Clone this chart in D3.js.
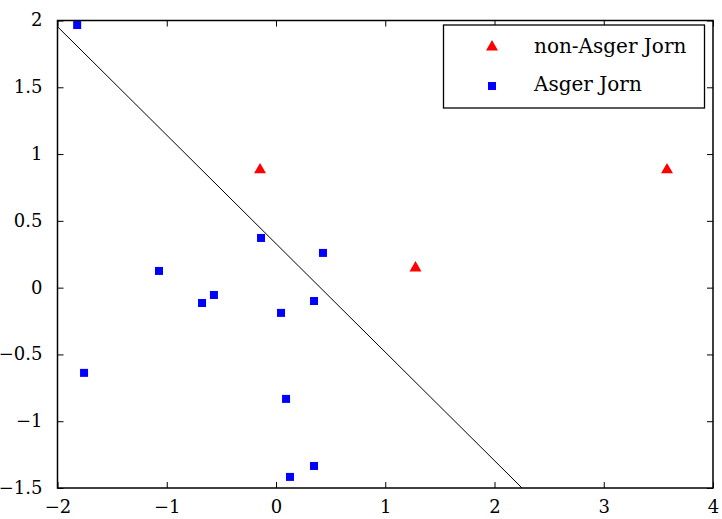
<!DOCTYPE html>
<html>
<head>
<meta charset="utf-8">
<script src="https://cdn.jsdelivr.net/npm/d3@7"></script>
<style>
  body { margin: 0; background: #fff; }
  svg text { font-family: "DejaVu Serif", serif; }
</style>
</head>
<body>
<script>
// non-Asger Jorn (red triangles)
const nonJornX = [-0.146, 1.277, 3.579];
const nonJornY = [0.889, 0.155, 0.889];
// Asger Jorn (blue squares)
const jornX = [-1.82, -1.757, -1.071, -0.677, -0.568, -0.137, 0.43, 0.046, 0.348, 0.092, 0.128, 0.348];
const jornY = [1.966, -0.638, 0.125, -0.115, -0.055, 0.372, 0.26, -0.189, -0.10, -0.833, -1.417, -1.335];
// separating line
const lineX = [-2, 2.252];
const lineY = [1.954, -1.5];

const xTicks = [-2, -1, 0, 1, 2, 3, 4];
const yTicks = [-1.5, -1, -0.5, 0, 0.5, 1, 1.5, 2];
const legendLabels = ['non-Asger Jorn', 'Asger Jorn'];

const width = 722, height = 519;
const pLeft = 57.5, pRight = 713, pTop = 20.5, pBottom = 488;

const svg = d3.select('body').append('svg')
    .attr('width', width)
    .attr('height', height);

const x = d3.scaleLinear().domain([-2, 4]).range([pLeft, pRight]);
const y = d3.scaleLinear().domain([-1.5, 2]).range([pBottom, pTop]);

const fmt = d => (d < 0 ? '\u2212' : '') + Math.abs(d);

svg.append('defs').append('clipPath').attr('id', 'clip')
   .append('rect')
   .attr('x', pLeft).attr('y', pTop)
   .attr('width', pRight - pLeft).attr('height', pBottom - pTop);

// line
svg.append('line')
   .attr('clip-path', 'url(#clip)')
   .attr('x1', x(lineX[0])).attr('y1', y(lineY[0]))
   .attr('x2', x(lineX[1])).attr('y2', y(lineY[1]))
   .attr('stroke', '#000')
   .attr('stroke-width', 1);

// points
const jorn = jornX.map((v, i) => [v, jornY[i]]);
const nonJorn = nonJornX.map((v, i) => [v, nonJornY[i]]);
const sq = 8;
svg.selectAll('rect.dot')
   .data(jorn)
   .enter()
   .append('rect')
   .attr('class', 'dot')
   .attr('x', d => x(d[0]) - sq / 2)
   .attr('y', d => y(d[1]) - sq / 2)
   .attr('width', sq)
   .attr('height', sq)
   .attr('fill', '#0000ff');

const tri = d3.symbol().type(d3.symbolTriangle).size(62);
svg.selectAll('path.tri')
   .data(nonJorn)
   .enter()
   .append('path')
   .attr('class', 'tri')
   .attr('d', tri)
   .attr('transform', d => `translate(${x(d[0])},${y(d[1]) + 1})`)
   .attr('fill', '#ff0000');

// axes with inward ticks on all sides
const tick = 6;
const xb = svg.append('g')
   .attr('transform', `translate(0,${pBottom})`)
   .call(d3.axisBottom(x).tickValues(xTicks).tickSizeInner(-tick).tickSizeOuter(0).tickPadding(12).tickFormat(fmt));
const xt = svg.append('g')
   .attr('transform', `translate(0,${pTop})`)
   .call(d3.axisTop(x).tickValues(xTicks).tickSizeInner(-tick).tickSizeOuter(0).tickFormat(''));
const yl = svg.append('g')
   .attr('transform', `translate(${pLeft},0)`)
   .call(d3.axisLeft(y).tickValues(yTicks).tickSizeInner(-tick).tickSizeOuter(0).tickPadding(15).tickFormat(fmt));
const yr = svg.append('g')
   .attr('transform', `translate(${pRight},0)`)
   .call(d3.axisRight(y).tickValues(yTicks).tickSizeInner(-tick).tickSizeOuter(0).tickFormat(''));

[xb, xt, yl, yr].forEach(g => {
    g.attr('font-family', null).attr('font-size', null);
    g.select('.domain').remove();
    g.selectAll('.tick line').attr('stroke', '#000').attr('stroke-width', 1);
    g.selectAll('text').attr('fill', '#000').style('font-size', '18px');
});
yl.selectAll('text').attr('dy', '0.3em');
xb.selectAll('text').attr('dy', '0.71em');

svg.append('rect')
   .attr('x', pLeft).attr('y', pTop)
   .attr('width', pRight - pLeft).attr('height', pBottom - pTop)
   .attr('fill', 'none')
   .attr('stroke', '#000')
   .attr('stroke-width', 1.5);

// legend
const lg = svg.append('g');
lg.append('rect')
  .attr('x', 443.5).attr('y', 25)
  .attr('width', 261).attr('height', 83)
  .attr('fill', '#fff')
  .attr('stroke', '#000')
  .attr('stroke-width', 1.3);
lg.append('path')
  .attr('d', tri)
  .attr('transform', 'translate(492,47)')
  .attr('fill', '#ff0000');
lg.append('rect')
  .attr('x', 492 - sq / 2).attr('y', 86 - sq / 2)
  .attr('width', sq).attr('height', sq)
  .attr('fill', '#0000ff');
lg.selectAll('text.lab')
  .data(legendLabels)
  .enter()
  .append('text')
  .attr('class', 'lab')
  .attr('x', 534)
  .attr('y', (d, i) => 53 + i * 38)
  .style('font-size', '20px')
  .text(d => d);
</script>
</body>
</html>
